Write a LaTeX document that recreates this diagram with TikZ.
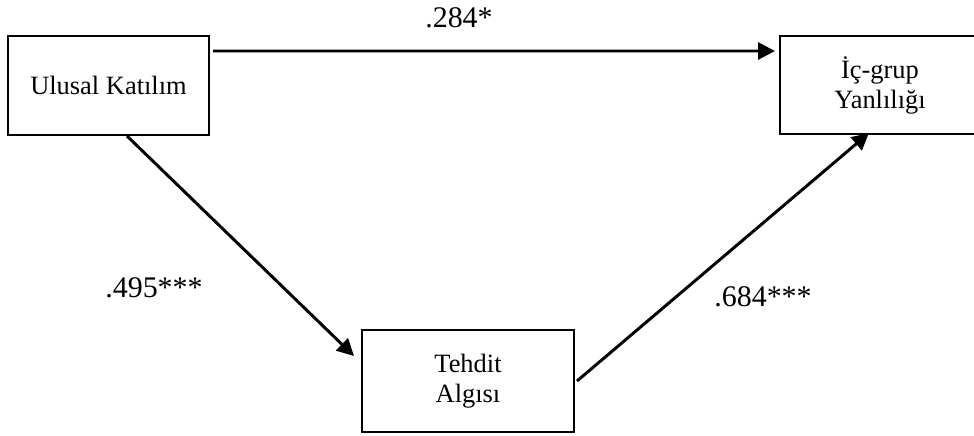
\documentclass[tikz,border=0pt]{standalone}
\usepackage{fontspec}
\setmainfont{Liberation Serif}
\usetikzlibrary{arrows.meta}

\tikzset{
	varbox/.style={draw, line width=1.4pt, align=center, inner sep=0pt,
		font=\fontsize{18.8}{21.3}\selectfont},
	effect/.style={line width=2.1pt, -{Triangle[length=12pt,width=12pt]}},
	coef/.style={inner sep=0pt, font=\fontsize{21.3}{21.3}\selectfont}
}

\begin{document}
\begin{tikzpicture}[x=0.025cm, y=-0.025cm]
			\useasboundingbox (0,0) rectangle (974,435);
			\node[varbox, minimum width=5.025cm, minimum height=2.475cm] (ulusal) at (108.5,85.5) {Ulusal Katılım};
			\node[varbox, minimum width=5cm, minimum height=2.45cm] (icgrup) at (880,85) {İç-grup\\Yanlılığı};
			\node[varbox, minimum width=5.3cm, minimum height=2.55cm] (tehdit) at (468,381) {Tehdit\\Algısı};
			\draw[effect] ([shift={(3,16)}]ulusal.north east) -- ([shift={(-4,16)}]icgrup.north west);
			\draw[effect] ([shift={(18.5,0)}]ulusal.south) -- ([shift={(-7,27)}]tehdit.north west);
			\draw[effect] ([shift={(2,0)}]tehdit.east) -- ([shift={(-11,-2)}]icgrup.south);
			\node[coef] (c1) at (459,17.5) {.284*};
			\node[coef] (c2) at (154,287.5) {.495***};
			\node[coef] (c3) at (763,296.5) {.684***};
		\end{tikzpicture}
\end{document}
